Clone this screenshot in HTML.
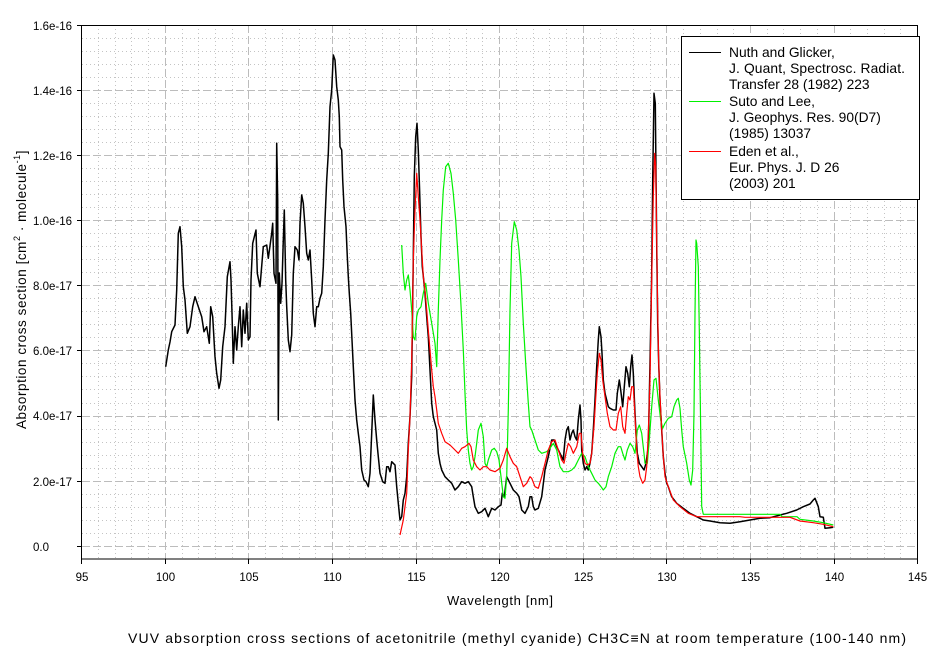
<!DOCTYPE html>
<html><head><meta charset="utf-8"><style>
html,body{margin:0;padding:0;background:#fff;}
svg{display:block;}
text{font-family:"Liberation Sans",Arial,sans-serif;fill:#000;}
</style></head><body>
<svg width="942" height="651" viewBox="0 0 942 651" xmlns="http://www.w3.org/2000/svg">
<rect x="0" y="0" width="942" height="651" fill="#fff"/>
<path fill="none" stroke="#c4c4c4" stroke-width="1" stroke-dasharray="1 3" d="
M98.5 25V559M115.5 25V559M131.5 25V559M148.5 25V559
M182.5 25V559M198.5 25V559M215.5 25V559M232.5 25V559
M265.5 25V559M282.5 25V559M299.5 25V559M315.5 25V559
M349.5 25V559M365.5 25V559M382.5 25V559M399.5 25V559
M432.5 25V559M449.5 25V559M466.5 25V559M482.5 25V559
M516.5 25V559M533.5 25V559M549.5 25V559M566.5 25V559
M600.5 25V559M616.5 25V559M633.5 25V559M650.5 25V559
M683.5 25V559M700.5 25V559M717.5 25V559M733.5 25V559
M767.5 25V559M783.5 25V559M800.5 25V559M817.5 25V559
M850.5 25V559M867.5 25V559M884.5 25V559M900.5 25V559
M82 533.5H917M82 520.5H917M82 507.5H917M82 494.5H917
M82 468.5H917M82 455.5H917M82 442.5H917M82 429.5H917
M82 403.5H917M82 389.5H917M82 376.5H917M82 363.5H917
M82 337.5H917M82 324.5H917M82 311.5H917M82 298.5H917
M82 272.5H917M82 259.5H917M82 246.5H917M82 233.5H917
M82 207.5H917M82 194.5H917M82 181.5H917M82 168.5H917
M82 142.5H917M82 129.5H917M82 116.5H917M82 103.5H917
M82 77.5H917M82 64.5H917M82 51.5H917M82 38.5H917"/>
<path fill="none" stroke="#bcbcbc" stroke-width="1" stroke-dasharray="8 3" d="
M165.5 25V559M248.5 25V559M332.5 25V559M416.5 25V559M499.5 25V559
M583.5 25V559M666.5 25V559M750.5 25V559M834.5 25V559
M82 546.5H917M82 481.5H917M82 416.5H917M82 350.5H917
M82 285.5H917M82 220.5H917M82 155.5H917M82 90.5H917"/>
<rect x="81.5" y="25.5" width="836" height="533.5" fill="none" stroke="#000" stroke-width="1"/>
<path fill="none" stroke="#000" stroke-width="1" d="
M77 546.5H82M77 481.5H82M77 416.5H82M77 350.5H82M77 285.5H82M77 220.5H82M77 155.5H82M77 90.5H82M77 25.5H82
M81.5 559V564M165.5 559V564M248.5 559V564M332.5 559V564M416.5 559V564M499.5 559V564
M583.5 559V564M666.5 559V564M750.5 559V564M834.5 559V564M917.5 559V564"/>
<g font-size="11.5">
<text x="33" y="30">1.6e-16</text>
<text x="33" y="95">1.4e-16</text>
<text x="33" y="160">1.2e-16</text>
<text x="33" y="225">1.0e-16</text>
<text x="33" y="290">8.0e-17</text>
<text x="33" y="355">6.0e-17</text>
<text x="33" y="420">4.0e-17</text>
<text x="33" y="486">2.0e-17</text>
<text x="33" y="551">0.0</text>
</g>
<g font-size="11.5" text-anchor="middle">
<text x="82" y="581">95</text>
<text x="165.5" y="581">100</text>
<text x="249" y="581">105</text>
<text x="332.5" y="581">110</text>
<text x="416.5" y="581">115</text>
<text x="500" y="581">120</text>
<text x="583.5" y="581">125</text>
<text x="667" y="581">130</text>
<text x="750.5" y="581">135</text>
<text x="834.5" y="581">140</text>
<text x="917.5" y="581">145</text>
</g>
<text x="447" y="605" font-size="13" textLength="106" lengthAdjust="spacing">Wavelength [nm]</text>
<text x="128" y="643" font-size="14" textLength="778" lengthAdjust="spacing">VUV absorption cross sections of acetonitrile (methyl cyanide) CH3C≡N at room temperature (100-140 nm)</text>
<text transform="translate(26,429) rotate(-90)" font-size="13.5" letter-spacing="0.55">Absorption cross section [cm<tspan font-size="9" dy="-6">2</tspan><tspan dy="6"> · molecule</tspan><tspan font-size="9" dy="-6">-1</tspan><tspan dy="6">]</tspan></text>

<polyline fill="none" stroke="#000" stroke-width="1.5" stroke-linejoin="round" points="
165.7,366.7 168.3,350 170,342 171.7,331.7 175,325 176.7,290 178.3,233.3 180,226.7 181.7,246.7 183.3,286.7 185,300 187.3,333.3 190,326.7 192.7,306.7 195,296.7 198.3,306.7 201.7,316.7 204,331.7 206.7,326.7 209.3,343.3 210.7,306.7 212.7,316.7 215,356.7 216.7,373.3 219,388.3 220.7,380 222.7,346.7 225,326.7 227.3,276.7 230,261.7 231,280 232,313.3 233.3,363.3 235,326.7 236.7,350 238.3,326.7 240,306.7 241.7,346.7 243.3,310 245,333.3 246.7,303.3 248.3,340 250,336.7 251,280 252.7,243.3 256,230 257.3,273.3 260,286.7
263.3,246.7 266.7,245 268.3,258.3 271.7,233.3 272.7,223.3 274,273.3 276,283.3 276.7,143.3 277.7,200 278.3,420 279.3,273 280.7,303.3 282,283.3 283.3,240 284.3,210 285.7,280 286.7,306.7 288.3,340 290,351.7 291.7,335 293.3,273.3 295,246.7 297.3,250 299,260 300,223.3 301.7,195 303.3,203.3 305,226.7 306.7,253.3 308.3,260 310,250 311.7,280 313.3,313.3 315,326.7 316.7,306.7 318.3,306.7 320,298.3 321.7,293.3 323.3,266.7 325,220 326.7,180 328.3,153.3 330,106.7 331.7,90 333.3,55 335,60 336.7,86.7 338.3,100 339.3,116.7 340,146.7 341.7,150 342.7,180 344,206.7 346,226.7 347.3,256.7 348.3,276.7 349.3,293.3 350.7,313.3 352,340 353.3,366.7 355,400 356.7,420 358.3,433.3 360,446.7 361.7,470 364,480 366,481.7 368.3,486.7 370,473.3 371.7,433.3 373.3,395 375,420 376.7,440 378.3,456.7 380,473.3 382.7,481.7 385,483.3 386.7,466.7 388.3,466.7 390,471.7 391.7,461.7 393.3,463.3 395,465 396.7,486.7 398.3,503.3 400,520 401.7,516.7 403.3,500 405,493.3 406.7,476.7 408.3,443.3 410,416.7 411.7,376.7 413.3,256.7 414.3,176.7 415.7,136.7 417,123.3 418.3,150 419.7,193.3 421,236.7 422.3,266.7 423.7,280 425,293.3 426.7,316.7 428.3,336.7 430,370 431.7,403.3 433.3,416.7 435,423.3 436.7,430 438.3,453.3 440,463.3 441.7,470 445,476.7 448.3,480 451.7,483.3 455,490 458.3,486.7 461.7,481.7 465,483.3 468.3,481.7 471.7,486.7 473.3,496.7 475,506.7 478.3,513.3 481.7,511.7 485,508.3 488.3,516.7 491.7,508.3 495,510 498.3,506.7 501,505 502.3,493.3 504.3,496.7 506.7,476.7 510,483.3 513.3,490 516.7,493.3 519,496.7 521.7,510 525,513.3 528.3,506.7 530,496.7 531.7,496.7 533.3,506.7 535,510 538.3,508.3 541.7,496.7 545,470 548.3,456.7 551.7,440 554.3,440 556.7,446.7 560,453.3 563.3,460 565,440 566.7,430 568.3,426.7 570,440 571.7,433.3 573.3,430 575,436.7 576.7,440 578.3,420 580,405 581,420 581.7,450 583.3,463.3 585,470 586.7,466.7 588.3,470 590,463.3 591.7,453.3 593.3,430 595,400 596.7,366.7 598.3,340 599.3,326.7 601,336.7 602,353.3 603.3,380 605,393.3 606.7,400 608.3,406.7 610,408.3 613.3,410 616,410 617.3,393.3 619.3,380 620.7,390 622.7,406.7 624.3,386.7 626,366.7 627.7,373.3 629.3,386.7 630.7,366.7 632,355 633.3,373.3 634.7,406.7 636,433.3 637.3,453.3 639.3,463.3 641.7,466.7 644,470 646,463.3 648.3,446.7 650,363.3 651.7,273.3 652.7,180 654,93.3 655.3,103.3 656,173.3 656.7,243.3 657.7,323.3 658.7,363.3 660,400 661.7,430 663.3,456.7 665,473.3 666.7,483.3 668.3,486.7 671.7,496.7 676.7,503.3 683.3,508.3 690,513.3 696.7,516.7 703.3,520 710,521 720,522.7 730,523.3 740,521.7 750,520 760,518.3 770,517.7 780,515 786.7,513.3 796.7,510 803.3,506.7 810,504 813.3,500 815,498.3 818.3,506.7 820,516.7 823.3,517.3 825,528.3 830,527.7 833.3,527.3"/>

<polyline fill="none" stroke="#00f000" stroke-width="1.2" stroke-linejoin="round" points="
401.7,245 403.3,273.3 405,290 406.7,280 408.3,275 410,290 411.7,310 413.3,336.7 415,340 416.7,316.7 418.3,310 421,306.7 423.3,293.3 425.7,283.3 428.3,303.3 431.7,323.3 435,343.3 436.7,366.7 438.3,310 440,260 441.7,220 443.3,190 445.7,166.7 448.3,163.3 451,173.3 453.3,193.3 455.7,220 458.3,260 460.7,300 463.3,350 465,393.3 466.7,430 468.3,450 470,463.3 471.7,470 473.3,466.7 475,456.7 476.7,443.3 478.3,430 481,423.3 483.3,436.7 485,463.3 486.7,466.7 488.3,460 491.7,450 494.3,448.3 496.7,451.7 499,460 501,476.7 503.3,496.7 505,498.3 506.7,476.7 508.3,410 510,310 511.7,243.3 514.3,221.7 516.7,230 519,250 521,276.7 523.3,323.3 525.7,363.3 528.3,403.3 530,426.7 531.7,430 535,440 538.3,450 541.7,453.3 546.7,451.7 550,448.3 553.3,443.3 556.7,450 560,466.7 563.3,471.7 568.3,471.7 571.7,470 575,466.7 578.3,460 581.7,453.3 585,456.7 588.3,466.7 591.7,473.3 595,480 598.3,483.3 601,486.7 603.3,490 606,486.7 608.3,476.7 611.7,466.7 615,453.3 618.3,446.7 620.7,446.7 622.7,453.3 625,460 627.3,450 630,443.3 632.7,446.7 635,453.3 637.3,430 639.3,425 641.7,433.3 644,453.3 645,463.3 647.3,463.3 649.3,440 651.7,406.7 654,380 656,378.3 658.3,400 660.7,420 662.7,428.3 665,423.3 668.3,418.3 671.7,416.7 674,406.7 676.7,400 678.3,398.3 680,408.3 681.7,430 683.3,446.7 686.7,463.3 689.3,480 691,485 692.7,470 694,413.3 695,313.3 696,240 696.7,243.3 698.3,266.7 699.3,330 700.7,430 701.7,506.7 703.3,514.3 780,514.3 782,516.7 797,516.7 800,519.3 813.3,521 823.3,522.7 833.3,525"/>

<polyline fill="none" stroke="#ff0000" stroke-width="1.2" stroke-linejoin="round" points="
400,535 403.3,520 406.7,493.3 408.3,450 410,416.7 411.7,360 413.3,260 415,210 416.7,173.3 418.3,196.7 420,220 421.7,250 423.3,276.7 425,290 426.7,310 428.3,330 430,350 431.7,370 433.3,386.7 435,396.7 436.7,410 438.3,423.3 441.7,433.3 445,441.7 450,445 455,450 458.3,453.3 461.7,448.3 465,446.7 469,443.3 471,446.7 473.3,460 476.7,466.7 480,470 483.3,466.7 486.7,466.7 490,470 495,471.7 500,468.3 503.3,460 506.7,448.3 510,456.7 513.3,463.3 516.7,466.7 520,476.7 523.3,486.7 526.7,483.3 530,476.7 531.7,478.3 535,486.7 538.3,488.3 541.7,476.7 545,463.3 548.3,450 551.7,441.7 555,440 558.3,450 561.7,460 564,463.3 566,453.3 568.3,443.3 570.7,446.7 573.3,453.3 576.7,446.7 579.3,433.3 581,433.3 582.7,453.3 585,463.3 587.3,465 590,463.3 591.7,453.3 594,426.7 596,393.3 597.3,373.3 599.3,353.3 601,360 602.7,380 605,396.7 607.3,413.3 610,426.7 613.3,430 616,430 618.3,413.3 620.7,406.7 622.7,426.7 625,433.3 626.7,413.3 628.3,396.7 630,400 631.7,386.7 633.3,386.7 635,416.7 636.7,450 638.3,466.7 640,476.7 642.7,483.3 645,480 646.7,466.7 648.3,433.3 650,380 651.7,280 653.3,196.7 654.7,153.3 655.7,166.7 656.7,240 657.7,313.3 658.7,363.3 660,396.7 661.7,430 663.3,456.7 665,476.7 668.3,486.7 673.3,500 680,506.7 688.3,513.3 696.7,516.7 703.3,516.7 740,516.7 745,517.3 790,517.3 800,521 813.3,522.7 823.3,524.3 833.3,526.7"/>

<rect x="681.5" y="36.5" width="238" height="163" fill="#fff" stroke="#000" stroke-width="1"/>
<line x1="689" y1="52.5" x2="721" y2="52.5" stroke="#000" stroke-width="1"/>
<line x1="689" y1="101.5" x2="721" y2="101.5" stroke="#00f000" stroke-width="1"/>
<line x1="689" y1="151.5" x2="721" y2="151.5" stroke="#ff0000" stroke-width="1"/>
<g font-size="13.8">
<text x="729" y="57">Nuth and Glicker,</text>
<text x="729" y="73" textLength="176" lengthAdjust="spacing">J. Quant, Spectrosc. Radiat.</text>
<text x="729" y="89">Transfer 28 (1982) 223</text>
<text x="729" y="106">Suto and Lee,</text>
<text x="729" y="122">J. Geophys. Res. 90(D7)</text>
<text x="729" y="138">(1985) 13037</text>
<text x="729" y="156">Eden et al.,</text>
<text x="729" y="172">Eur. Phys. J. D 26</text>
<text x="729" y="188">(2003) 201</text>
</g>
</svg>
</body></html>
